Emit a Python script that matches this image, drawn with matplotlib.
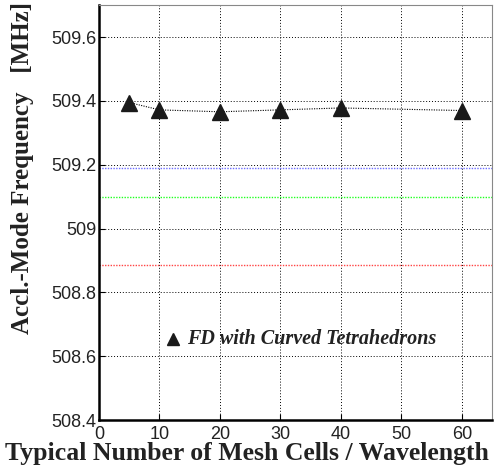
import matplotlib
matplotlib.use("Agg")
import matplotlib.pyplot as plt

# mesh density vs. accelerating mode frequency
cells = [5, 10, 20, 30, 40, 60]
freq = [509.395, 509.372, 509.366, 509.372, 509.378, 509.370]
ref_lines = [509.19, 509.10, 508.887]
ref_colors = ["#6f6fff", "#22ff22", "#ff4444"]
xticks = [0, 10, 20, 30, 40, 50, 60]
yticks = [508.4, 508.6, 508.8, 509.0, 509.2, 509.4, 509.6]
ytick_labels = ["508.4", "508.6", "508.8", "509", "509.2", "509.4", "509.6"]

fig = plt.figure(figsize=(4.94, 4.72), dpi=100)
ax = fig.add_axes([0.2004, 0.110, 0.7956, 0.879])

for y, c in zip(ref_lines, ref_colors):
    ax.axhline(y, color=c, linestyle=(0, (1, 1)), linewidth=1.0, zorder=1)

ax.plot(cells, freq, color="black", linestyle=(0, (1, 1.2)), linewidth=0.8,
        marker="^", markersize=11, markerfacecolor="#1a1a1a",
        markeredgecolor="#1a1a1a", zorder=3)

ax.set_xlim(0, 65)
ax.set_ylim(508.4, 509.7)
ax.set_xticks(xticks)
ax.set_yticks(yticks)
ax.set_yticklabels(ytick_labels)
ax.grid(True, color="black", linestyle=(0, (1, 2)), linewidth=0.7)
ax.set_axisbelow(True)
ax.tick_params(direction="in", length=4, labelsize=13, pad=2)
ax.tick_params(axis="x", pad=4)
for lab in ax.get_xticklabels() + ax.get_yticklabels():
    lab.set_family("Liberation Sans")
    lab.set_color("#222222")

ax.spines["left"].set_linewidth(1.8)
ax.spines["bottom"].set_linewidth(1.8)
ax.spines["top"].set_color("#888888")
ax.spines["right"].set_color("#888888")

fig.text(0.5, 0.040, "Typical Number of Mesh Cells / Wavelength", family="Liberation Serif",
         fontweight="bold", fontsize=18.5, ha="center", va="center", color="#222222")
fig.text(0.045, 0.645, "Accl.-Mode Frequency   [MHz]", family="Liberation Serif",
         fontweight="bold", fontsize=18, rotation=90, ha="center", va="center",
         color="#222222")

ax.plot([12.2], [508.655], marker="^", markersize=9, color="#1a1a1a", linestyle="none")
ax.text(14.6, 508.655, "FD with Curved Tetrahedrons", family="Liberation Serif",
        fontweight="bold", fontstyle="italic", fontsize=14.5, va="center", color="#222222")

fig.savefig("out.png", dpi=100)
